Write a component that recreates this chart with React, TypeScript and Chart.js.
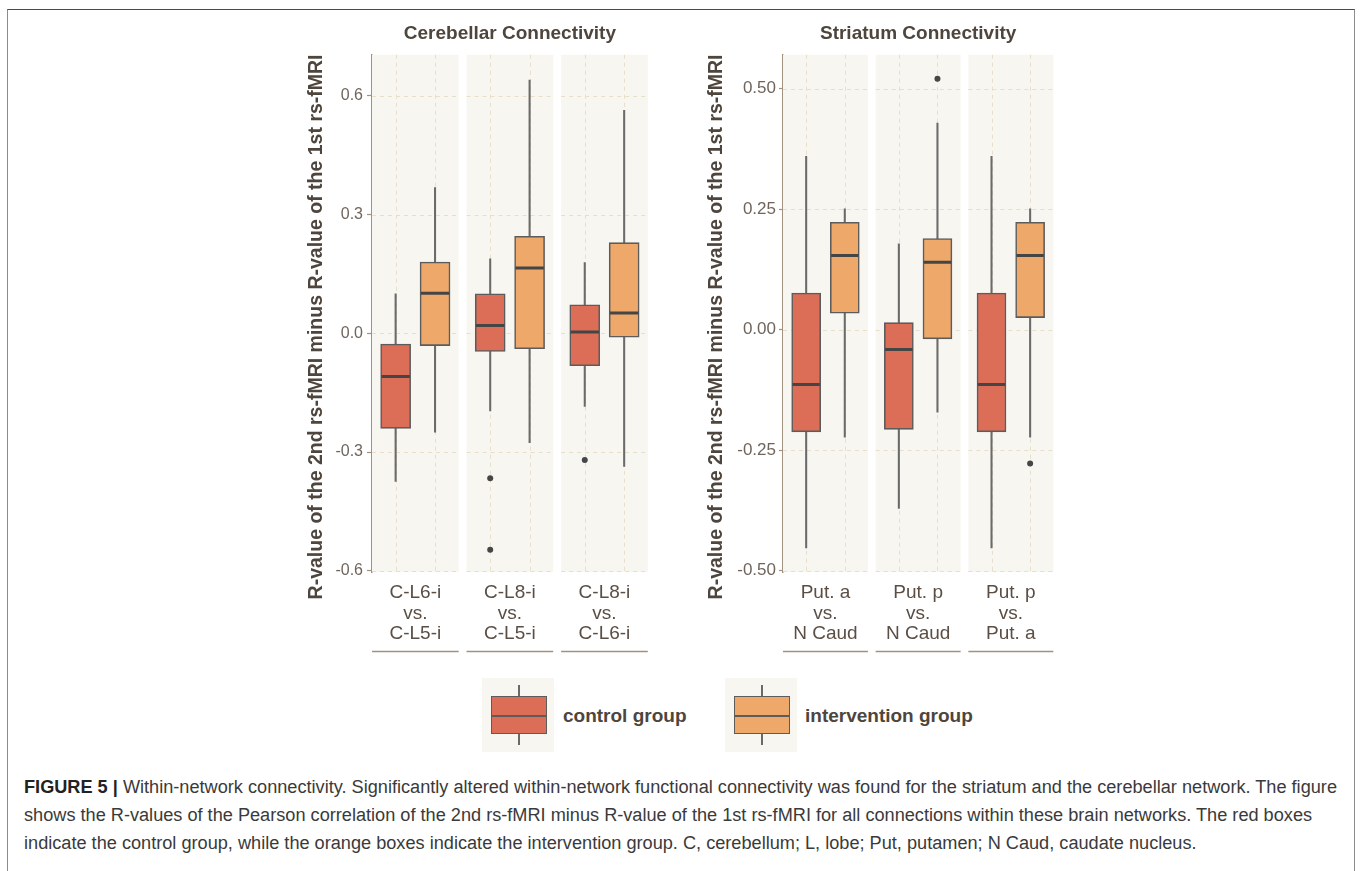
import React, { useEffect, useLayoutEffect, useRef } from "react";
import { Chart, registerables } from "chart.js";

Chart.register(...registerables);

const FONT = "'Liberation Sans', Arial, Helvetica, sans-serif";

// ---------------- Cerebellar panel data ----------------
const CEREB_CATEGORIES = [
  ["C-L6-i", "vs.", "C-L5-i"],
  ["C-L8-i", "vs.", "C-L5-i"],
  ["C-L8-i", "vs.", "C-L6-i"],
];
const CEREB_Y_TICKS = [-0.6, -0.3, 0, 0.3, 0.6];
const CEREB_Y_TICK_LABELS = ["-0.6", "-0.3", "0.0", "0.3", "0.6"];
const CEREB_CONTROL_LOW = [-0.374, -0.196, -0.185];
const CEREB_CONTROL_Q1 = [-0.24, -0.046, -0.082];
const CEREB_CONTROL_MEDIAN = [-0.109, 0.02, 0.003];
const CEREB_CONTROL_Q3 = [-0.027, 0.1, 0.072];
const CEREB_CONTROL_HIGH = [0.1, 0.188, 0.179];
const CEREB_CONTROL_OUTLIERS = [[], [-0.366, -0.547], [-0.32]];
const CEREB_INTERV_LOW = [-0.25, -0.276, -0.336];
const CEREB_INTERV_Q1 = [-0.031, -0.039, -0.01];
const CEREB_INTERV_MEDIAN = [0.101, 0.165, 0.051];
const CEREB_INTERV_Q3 = [0.18, 0.245, 0.229];
const CEREB_INTERV_HIGH = [0.368, 0.64, 0.563];
const CEREB_INTERV_OUTLIERS = [[], [], []];

// ---------------- Striatum panel data ----------------
const STRIA_CATEGORIES = [
  ["Put. a", "vs.", "N Caud"],
  ["Put. p", "vs.", "N Caud"],
  ["Put. p", "vs.", "Put. a"],
];
const STRIA_Y_TICKS = [-0.5, -0.25, 0, 0.25, 0.5];
const STRIA_Y_TICK_LABELS = ["-0.50", "-0.25", "0.00", "0.25", "0.50"];
const STRIA_CONTROL_LOW = [-0.453, -0.371, -0.453];
const STRIA_CONTROL_Q1 = [-0.212, -0.207, -0.212];
const STRIA_CONTROL_MEDIAN = [-0.114, -0.041, -0.114];
const STRIA_CONTROL_Q3 = [0.076, 0.0145, 0.076];
const STRIA_CONTROL_HIGH = [0.36, 0.178, 0.36];
const STRIA_CONTROL_OUTLIERS = [[], [], []];
const STRIA_INTERV_LOW = [-0.223, -0.171, -0.223];
const STRIA_INTERV_Q1 = [0.034, -0.019, 0.025];
const STRIA_INTERV_MEDIAN = [0.154, 0.14, 0.154];
const STRIA_INTERV_Q3 = [0.223, 0.189, 0.223];
const STRIA_INTERV_HIGH = [0.251, 0.429, 0.251];
const STRIA_INTERV_OUTLIERS = [[], [0.521], [-0.278]];

const GROUP_NAMES = ["control group", "intervention group"];
const Y_TITLE = "R-value of the 2nd rs-fMRI minus R-value of the 1st rs-fMRI";

const CAPTION_BOLD = "FIGURE 5 |";
const CAPTION_LINES = [
  " Within-network connectivity. Significantly altered within-network functional connectivity was found for the striatum and the cerebellar network. The figure",
  "shows the R-values of the Pearson correlation of the 2nd rs-fMRI minus R-value of the 1st rs-fMRI for all connections within these brain networks. The red boxes",
  "indicate the control group, while the orange boxes indicate the intervention group. C, cerebellum; L, lobe; Put, putamen; N Caud, caudate nucleus.",
];

// ---------------- styles ----------------
const GROUP_FILLS = ["#dc6e58", "#eea86a"];
const BOX_BORDER = "#5c5c5c";
const MEDIAN_COLOR = "#454545";
const WHISKER_COLOR = "#6a6a6a";
const OUTLIER_COLOR = "#464646";
const FACET_BG = "#f8f6f1";
const GRID_COLOR = "#e8dfcb";
const AXIS_COLOR = "#a3917f";
const TITLE_COLOR = "#4e453d";
const TICK_COLOR = "#6f655d";
const XLABEL_COLOR = "#5a4e45";

// facet geometry in x-axis units (discrete positions 1 and 2 with 0.6 expansion)
const FACET_SPAN = 2.2;
const FACET_STEP = 2.4;
const GROUP_OFFSETS = [0.6, 1.6];
const X_MAX = FACET_STEP * 2 + FACET_SPAN;

const facetStart = (k: number) => k * FACET_STEP;
const groupPos = (k: number, g: number) => facetStart(k) + GROUP_OFFSETS[g];

type Group = {
  low: number[]; q1: number[]; median: number[]; q3: number[]; high: number[]; outliers: number[][];
};

const PANELS = [
  {
    title: "Cerebellar Connectivity",
    categories: CEREB_CATEGORIES,
    yTicks: CEREB_Y_TICKS,
    yTickLabels: CEREB_Y_TICK_LABELS,
    yMin: -0.603,
    yMax: 0.7036,
    groups: [
      { low: CEREB_CONTROL_LOW, q1: CEREB_CONTROL_Q1, median: CEREB_CONTROL_MEDIAN, q3: CEREB_CONTROL_Q3, high: CEREB_CONTROL_HIGH, outliers: CEREB_CONTROL_OUTLIERS },
      { low: CEREB_INTERV_LOW, q1: CEREB_INTERV_Q1, median: CEREB_INTERV_MEDIAN, q3: CEREB_INTERV_Q3, high: CEREB_INTERV_HIGH, outliers: CEREB_INTERV_OUTLIERS },
    ] as Group[],
    left: 290, top: 15, width: 375, height: 650,
    yAxisWidth: 82, padRight: 12, xAxisHeight: 93,
    barThickness: 30, yTickFont: 16, tickLength: 5, tickPadding: 4,
  },
  {
    title: "Striatum Connectivity",
    categories: STRIA_CATEGORIES,
    yTicks: STRIA_Y_TICKS,
    yTickLabels: STRIA_Y_TICK_LABELS,
    yMin: -0.503,
    yMax: 0.5705,
    groups: [
      { low: STRIA_CONTROL_LOW, q1: STRIA_CONTROL_Q1, median: STRIA_CONTROL_MEDIAN, q3: STRIA_CONTROL_Q3, high: STRIA_CONTROL_HIGH, outliers: STRIA_CONTROL_OUTLIERS },
      { low: STRIA_INTERV_LOW, q1: STRIA_INTERV_Q1, median: STRIA_INTERV_MEDIAN, q3: STRIA_INTERV_Q3, high: STRIA_INTERV_HIGH, outliers: STRIA_INTERV_OUTLIERS },
    ] as Group[],
    left: 690, top: 15, width: 380, height: 650,
    yAxisWidth: 93, padRight: 14, xAxisHeight: 93,
    barThickness: 29, yTickFont: 17, tickLength: 4, tickPadding: 3,
  },
];

type Panel = (typeof PANELS)[number];

function facetPlugin(p: Panel) {
  return {
    id: "facets",
    beforeDatasetsDraw(chart: any) {
      const { ctx, chartArea, scales } = chart;
      const x = scales.x, y = scales.y;
      ctx.save();
      p.categories.forEach((_, k) => {
        const x0 = x.getPixelForValue(facetStart(k));
        const x1 = x.getPixelForValue(facetStart(k) + FACET_SPAN);
        ctx.fillStyle = FACET_BG;
        ctx.fillRect(x0, chartArea.top, x1 - x0, chartArea.bottom - chartArea.top);
        ctx.strokeStyle = GRID_COLOR;
        ctx.lineWidth = 1;
        ctx.setLineDash([4, 4]);
        p.yTicks.forEach((t) => {
          const py = Math.round(y.getPixelForValue(t)) + 0.5;
          ctx.beginPath();
          ctx.moveTo(x0, py);
          ctx.lineTo(x1, py);
          ctx.stroke();
        });
        GROUP_OFFSETS.forEach((_, g) => {
          const px = Math.round(x.getPixelForValue(groupPos(k, g))) + 0.5;
          ctx.beginPath();
          ctx.moveTo(px, chartArea.top);
          ctx.lineTo(px, chartArea.bottom);
          ctx.stroke();
        });
      });
      ctx.restore();
    },
    afterDraw(chart: any) {
      const { ctx, chartArea, scales } = chart;
      const x = scales.x;
      const yLine = chartArea.bottom + 79.5;
      ctx.save();
      ctx.strokeStyle = AXIS_COLOR;
      ctx.lineWidth = 1.3;
      p.categories.forEach((_, k) => {
        const x0 = x.getPixelForValue(facetStart(k));
        const x1 = x.getPixelForValue(facetStart(k) + FACET_SPAN);
        ctx.beginPath();
        ctx.moveTo(x0, yLine);
        ctx.lineTo(x1, yLine);
        ctx.stroke();
      });
      ctx.restore();
    },
  };
}

function buildConfig(p: Panel): any {
  const datasets: any[] = [];
  p.groups.forEach((grp, g) => {
    datasets.push({
      type: "bar",
      label: GROUP_NAMES[g] + " whisker",
      data: p.categories.map((_, k) => ({ x: groupPos(k, g), y: [grp.low[k], grp.high[k]] })),
      backgroundColor: WHISKER_COLOR,
      borderWidth: 0,
      barThickness: 1.4,
      grouped: false,
      order: 3,
    });
    datasets.push({
      type: "bar",
      label: GROUP_NAMES[g],
      data: p.categories.map((_, k) => ({ x: groupPos(k, g), y: [grp.q1[k], grp.q3[k]] })),
      backgroundColor: GROUP_FILLS[g],
      borderColor: BOX_BORDER,
      borderWidth: 1.6,
      borderSkipped: false,
      barThickness: p.barThickness,
      grouped: false,
      order: 2,
    });
    datasets.push({
      type: "scatter",
      label: GROUP_NAMES[g] + " median",
      data: p.categories.map((_, k) => ({ x: groupPos(k, g), y: grp.median[k] })),
      pointStyle: "line",
      pointRadius: p.barThickness / 2 - 0.8,
      pointBorderWidth: 3,
      pointBorderColor: MEDIAN_COLOR,
      order: 0,
    });
    datasets.push({
      type: "scatter",
      label: GROUP_NAMES[g] + " outliers",
      data: grp.outliers.flatMap((arr, k) => arr.map((v) => ({ x: groupPos(k, g), y: v }))),
      pointStyle: "circle",
      pointRadius: 3,
      pointBackgroundColor: OUTLIER_COLOR,
      pointBorderWidth: 0,
      order: 0,
    });
  });

  return {
    type: "bar",
    data: { datasets },
    options: {
      responsive: false,
      maintainAspectRatio: false,
      devicePixelRatio: 1,
      animation: false,
      events: [],
      layout: { padding: { left: 0, right: p.padRight, top: 0, bottom: 0 } },
      plugins: {
        legend: { display: false },
        tooltip: { enabled: false },
        title: {
          display: true,
          text: p.title,
          fullSize: false,
          color: TITLE_COLOR,
          font: { family: FONT, size: 19, weight: "bold", lineHeight: 1.2 },
          padding: { top: 7, bottom: 10 },
        },
      },
      scales: {
        x: {
          type: "linear",
          min: 0,
          max: X_MAX,
          offset: false,
          grid: { display: false, drawTicks: false, offset: false },
          border: { display: false },
          afterBuildTicks: (s: any) => {
            s.ticks = p.categories.map((_, k) => ({ value: facetStart(k) + FACET_SPAN / 2 }));
          },
          afterFit: (s: any) => {
            s.height = p.xAxisHeight;
          },
          ticks: {
            autoSkip: false,
            maxRotation: 0,
            minRotation: 0,
            padding: 10,
            color: XLABEL_COLOR,
            font: { family: FONT, size: 19, lineHeight: 1.1 },
            callback: (_v: any, i: number) => p.categories[i],
          },
        },
        y: {
          type: "linear",
          min: p.yMin,
          max: p.yMax,
          stacked: false,
          afterBuildTicks: (s: any) => {
            s.ticks = p.yTicks.map((v) => ({ value: v }));
          },
          afterFit: (s: any) => {
            s.width = p.yAxisWidth;
          },
          grid: {
            drawOnChartArea: false,
            drawTicks: true,
            tickLength: p.tickLength,
            tickColor: AXIS_COLOR,
            tickWidth: 1.2,
          },
          border: { display: true, color: AXIS_COLOR, width: 1.5 },
          ticks: {
            padding: p.tickPadding,
            color: TICK_COLOR,
            font: { family: FONT, size: p.yTickFont },
            callback: (_v: any, i: number) => p.yTickLabels[i],
          },
          title: {
            display: true,
            // trailing spaces nudge the centred, rotated title toward the bottom as in the original
            text: Y_TITLE + "     ",
            color: TITLE_COLOR,
            font: { family: FONT, size: 19.5, weight: "bold", lineHeight: 1.2 },
            padding: { top: 15, bottom: 0 },
          },
        },
      },
    },
    plugins: [facetPlugin(p)],
  };
}

function PanelChart({ panel }: { panel: Panel }) {
  const ref = useRef<HTMLCanvasElement | null>(null);
  useEffect(() => {
    if (!ref.current) return;
    const chart = new Chart(ref.current, buildConfig(panel));
    return () => chart.destroy();
  }, [panel]);
  return (
    <canvas
      ref={ref}
      width={panel.width}
      height={panel.height}
      style={{ position: "absolute", left: panel.left, top: panel.top, width: panel.width, height: panel.height }}
    />
  );
}

const LEGEND_KEYS = [
  { left: 482, textLeft: 563 },
  { left: 725, textLeft: 805 },
];

function LegendKey({ g }: { g: number }) {
  const k = LEGEND_KEYS[g];
  const top = 678;
  return (
    <>
      <div style={{ position: "absolute", left: k.left, top, width: 72, height: 74, background: FACET_BG }} />
      <div style={{ position: "absolute", left: k.left + 36.3, top: top + 7, width: 1.4, height: 60, background: WHISKER_COLOR }} />
      <div
        style={{
          position: "absolute", left: k.left + 9, top: top + 18, width: 56, height: 38, boxSizing: "border-box",
          background: GROUP_FILLS[g], border: `1.5px solid ${BOX_BORDER}`,
        }}
      />
      <div style={{ position: "absolute", left: k.left + 9, top: top + 37, width: 56, height: 1.6, background: BOX_BORDER }} />
      <div
        style={{
          position: "absolute", left: k.textLeft, top: top + 26, height: 24, lineHeight: "24px",
          fontFamily: FONT, fontWeight: "bold", fontSize: 19, color: TITLE_COLOR, whiteSpace: "nowrap",
        }}
      >
        {GROUP_NAMES[g]}
      </div>
    </>
  );
}

const CAPTION_LEFT = 24;
const CAPTION_FIRST_LINE_WIDTH = 1313;

function Caption() {
  const boxRef = useRef<HTMLDivElement | null>(null);
  const firstRef = useRef<HTMLSpanElement | null>(null);
  useLayoutEffect(() => {
    const box = boxRef.current, first = firstRef.current;
    if (!box || !first) return;
    const w = first.getBoundingClientRect().width;
    if (w > 0) box.style.transform = `scaleX(${CAPTION_FIRST_LINE_WIDTH / w})`;
  }, []);
  return (
    <div
      ref={boxRef}
      style={{
        position: "absolute", left: CAPTION_LEFT, top: 773, fontFamily: FONT, fontSize: 18, lineHeight: "28px",
        color: "#3a3a3a", whiteSpace: "nowrap", transformOrigin: "left top",
      }}
    >
      {CAPTION_LINES.map((line, i) => (
        <div key={i}>
          <span ref={i === 0 ? firstRef : undefined} style={{ display: "inline-block" }}>
            {i === 0 ? <b style={{ color: "#222" }}>{CAPTION_BOLD}</b> : null}
            {line}
          </span>
        </div>
      ))}
    </div>
  );
}

export default function App() {
  return (
    <div style={{ position: "absolute", left: 0, top: 0, width: 1360, height: 871, overflow: "hidden", background: "#fff" }}>
      <div
        style={{
          position: "absolute", left: 7, top: 9, width: 1348, height: 900, boxSizing: "border-box",
          borderTop: "1.5px solid #4a4a4a", borderLeft: "1.5px solid #8c8c8c", borderRight: "1.5px solid #8c8c8c",
        }}
      />
      {PANELS.map((p, i) => (
        <PanelChart key={i} panel={p} />
      ))}
      <LegendKey g={0} />
      <LegendKey g={1} />
      <Caption />
    </div>
  );
}
